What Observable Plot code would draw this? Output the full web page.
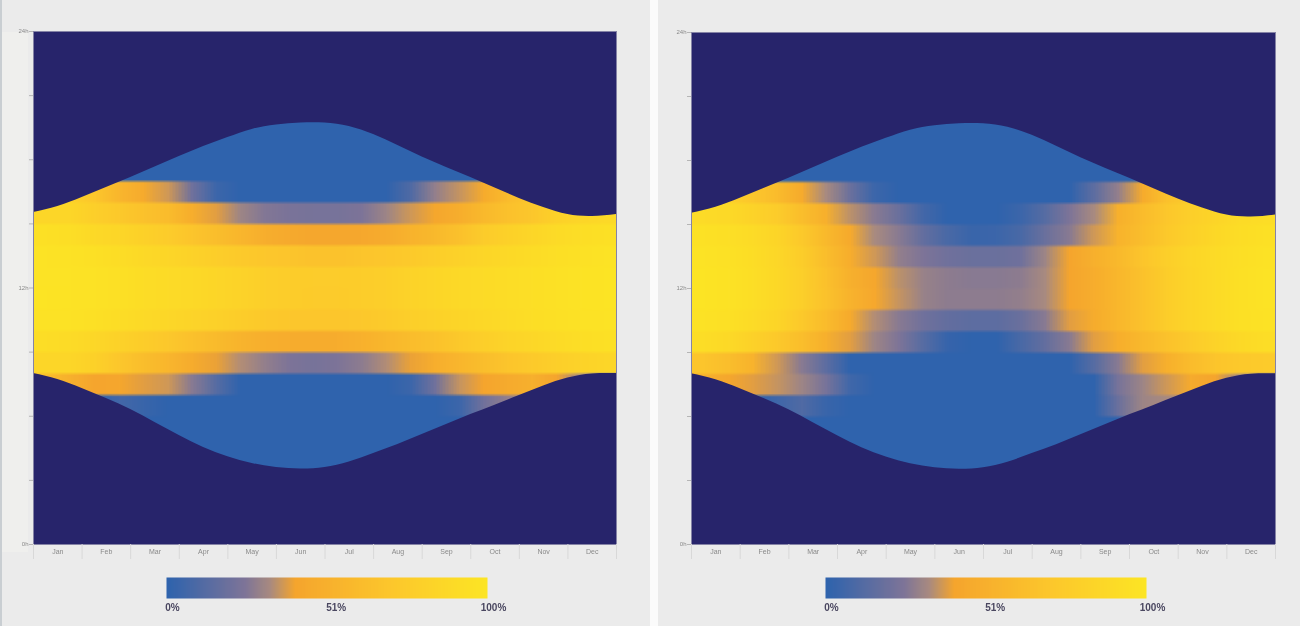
<!DOCTYPE html>
<html>
<head>
<meta charset="utf-8">
<script src="https://cdn.jsdelivr.net/npm/d3@7"></script>
<script src="https://cdn.jsdelivr.net/npm/@observablehq/plot@0.6"></script>
<style>
html,body{margin:0;padding:0;background:#ebebeb;overflow:hidden}
#page{position:relative;width:1300px;height:626px;background:#ebebeb;overflow:hidden}
#page>div,#page>svg{position:absolute}
#page svg{background:transparent;filter:blur(.45px)}
</style>
</head>
<body>
<div id="page">
  <div style="left:0;top:0;width:2px;height:626px;background:#c9ced2"></div>
  <div style="left:2px;top:32px;width:26px;height:520px;background:#efefed"></div>
  <div style="left:650px;top:0;width:8px;height:626px;background:#fbfbfb"></div>
</div>
<script>
const months = ["Jan","Feb","Mar","Apr","May","Jun","Jul","Aug","Sep","Oct","Nov","Dec"];
const hourLabels = {0:"0h",12:"12h",24:"24h"};
const hourTicks = [0,3,6,9,12,15,18,21,24];
const monthEdges = [0,1,2,3,4,5,6,7,8,9,10,11,12];
const monthCentres = [.5,1.5,2.5,3.5,4.5,5.5,6.5,7.5,8.5,9.5,10.5,11.5];
const legendTicks = [0,51,100];

// half-month nodes across the year
const yearNodes = [0,.5,1,1.5,2,2.5,3,3.5,4,4.5,5,5.5,6,6.5,7,7.5,8,8.5,9,9.5,10,10.5,11,11.5,12];
const sunset = [15.53,15.81,16.23,16.70,17.17,17.66,18.15,18.62,19.04,19.42,19.63,19.72,19.72,19.56,19.18,18.67,18.13,17.64,17.17,16.68,16.19,15.77,15.44,15.35,15.44];
const sunrise = [8.0,7.72,7.30,6.83,6.32,5.71,5.10,4.54,4.10,3.79,3.60,3.53,3.60,3.86,4.26,4.68,5.15,5.61,6.08,6.52,6.97,7.42,7.79,7.98,8.0];

// percentage per hour row (top row = 16-17h ... bottom row = 6-7h), 24 half-month columns
const leftRows = [
 [80,80,70,55,45,36,20,4,0,0,0,0,0,0,0,10,28,35,45,60,70,80,85,88],
 [85,85,78,72,66,60,48,38,30,25,23,22,22,24,30,36,42,48,58,65,70,80,85,88],
 [95,93,88,85,80,75,68,62,55,48,44,42,42,43,46,52,58,65,75,80,85,90,93,95],
 [98,97,95,92,88,85,81,77,73,70,68,66,66,68,70,73,77,81,85,88,91,94,96,98],
 [98,98,97,95,92,90,88,85,82,78,76,75,75,76,78,82,85,88,90,92,94,96,98,99],
 [99,98,97,95,92,90,88,85,82,78,76,74,74,76,78,82,85,88,90,92,94,96,98,99],
 [97,97,95,92,89,86,83,80,76,72,70,69,69,71,74,78,81,84,87,90,93,95,97,98],
 [92,90,86,81,76,71,65,59,53,49,47,46,47,51,56,61,66,72,78,83,86,90,93,95],
 [85,85,80,70,62,55,46,39,33,28,24,22,24,27,33,39,48,55,62,68,73,78,82,85],
 [60,50,40,42,38,36,26,12,0,0,0,0,0,0,0,4,20,35,40,45,50,40,30,20],
 [0,0,0,6,3,0,0,0,0,0,0,0,0,0,0,0,0,4,20,28,30,12,0,0]
];
const rightRows = [
 [85,80,70,60,45,32,18,4,0,0,0,0,0,0,0,0,14,28,45,65,75,85,88,90],
 [90,88,82,75,62,50,34,26,18,6,0,0,0,4,12,24,32,50,60,70,78,84,90,92],
 [96,94,90,84,72,58,44,32,26,16,8,3,4,8,18,26,36,52,62,72,80,87,92,95],
 [98,96,92,86,76,62,47,36,28,24,20,18,18,20,30,40,50,58,68,78,85,90,94,97],
 [99,97,93,87,78,65,50,42,34,29,27,26,26,27,32,40,47,56,66,76,84,90,95,98],
 [99,97,93,87,78,66,52,43,35,29,27,27,27,28,32,40,47,56,66,76,84,90,95,98],
 [97,95,90,84,72,60,44,33,26,20,16,14,14,18,26,38,46,56,66,76,84,90,95,97],
 [92,88,80,72,62,50,38,30,24,12,2,0,0,8,16,26,38,48,58,66,74,82,88,92],
 [68,62,52,36,26,14,0,0,0,0,0,0,0,0,0,0,12,26,38,50,60,68,72,74],
 [50,42,38,35,30,22,5,0,0,0,0,0,0,0,0,0,0,22,30,36,45,40,30,20],
 [0,0,0,5,10,3,0,0,0,0,0,0,0,0,0,0,0,18,30,32,30,12,0,0]
];

const colourStops = [0,24,32,40,70,100];
const colourRange = ["#2f63ad","#7d7498","#a88a80","#f5a52d","#fcc72c","#fce524"];
const nightColour = "#27246b";
const colorScale = {type:"linear",domain:colourStops,range:colourRange,interpolate:"rgb"};
const rampValues = d3.range(0,101);

// expand the hour rows into a 24-hour flat grid, each row repeated so bands stay crisp
function grid(rows){
  const zero = new Array(24).fill(0), out = [];
  const all = [...Array(7).fill(zero),...rows,...Array(6).fill(zero)];
  for (const r of all) for (let k=0;k<6;k++) out.push(...r);
  return out;
}

function panel(rows,o){
  const nodes = yearNodes.map((m,i)=>({m,set:sunset[i],rise:sunrise[i]}));
  return Plot.plot({
    width:o.width,height:570,marginLeft:33,marginRight:o.marginRight,marginTop:o.marginTop,marginBottom:26,
    style:{background:"transparent",fontFamily:"Liberation Sans, sans-serif"},
    x:{domain:[0,12],axis:null,label:null},
    y:{domain:[0,24],axis:null,label:null},
    color:colorScale,
    marks:[
      Plot.raster(grid(rows),{width:24,height:144,x1:0,x2:12,y1:24,y2:0,fill:d=>d,imageRendering:"auto"}),
      Plot.areaY(nodes,{x:"m",y1:"set",y2:24,fill:nightColour,curve:"natural"}),
      Plot.areaY(nodes,{x:"m",y1:0,y2:"rise",fill:nightColour,curve:"natural"}),
      Plot.frame({stroke:"#8583a6",strokeWidth:1}),
      Plot.axisX(monthEdges,{anchor:"bottom",tickSize:15,tickFormat:()=>"",stroke:"#d8d8d8",label:null}),
      Plot.axisX(monthCentres,{anchor:"bottom",tickSize:0,tickPadding:5,tickFormat:d=>months[Math.floor(d)],fontSize:7,fill:"#8a8a8a",label:null}),
      Plot.axisY(hourTicks,{anchor:"left",tickSize:4,stroke:"#b5b5b5",tickPadding:1,tickFormat:d=>hourLabels[d]??"",fontSize:6,fill:"#8a8a8a",label:null})
    ]
  });
}

function colourBar(){
  return Plot.plot({
    width:650,height:56,marginLeft:166,marginRight:163,marginTop:7,marginBottom:28,
    style:{background:"transparent",fontFamily:"Liberation Sans, sans-serif"},
    x:{domain:[0,100],axis:null,label:null},
    y:{domain:[0,1],axis:null,label:null},
    color:colorScale,
    marks:[
      Plot.raster(rampValues,{width:101,height:1,x1:0,x2:100,y1:1,y2:0,fill:d=>d,imageRendering:"auto"}),
      Plot.axisX(legendTicks,{anchor:"bottom",tickSize:0,tickPadding:5,dx:6,tickFormat:d=>d+"%",fontSize:10,fontWeight:"bold",fill:"#4a4760",stroke:null,label:null})
    ]
  });
}

const page = document.getElementById("page");
function place(el,left,top){el.style.left=left+"px";el.style.top=top+"px";page.appendChild(el);}
place(panel(leftRows,{width:650,marginRight:34,marginTop:31}),0,0);
place(panel(rightRows,{width:642,marginRight:25,marginTop:32}),658,0);
place(colourBar(),0,570);
place(colourBar(),659,570);
</script>
</body>
</html>
